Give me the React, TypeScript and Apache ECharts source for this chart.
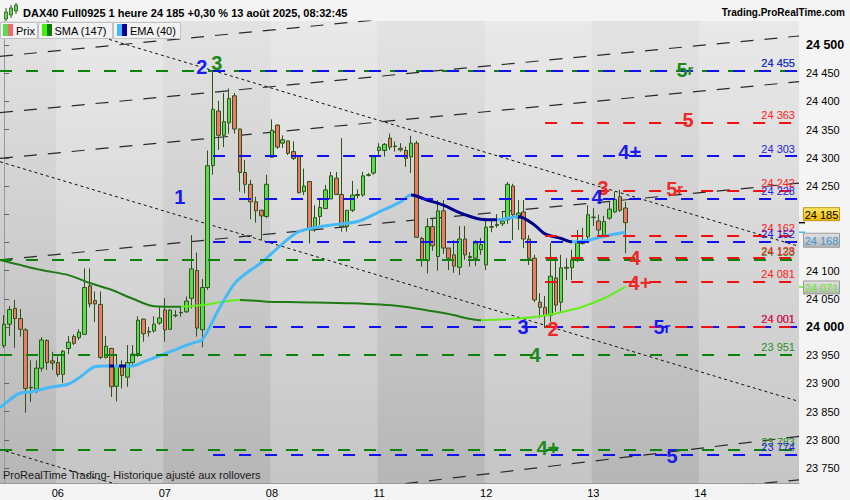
import React, { useEffect, useRef } from "react";
import * as echarts from "echarts";

const FONT = "'Liberation Sans', Arial, sans-serif";

// ---- axes ----
const dayLabels = ["06", "07", "08", "11", "12", "13", "14"];
const dayStarts = [10, 30, 50, 70, 90, 110, 130];
const lighterDays = [[9.7, 29.7], [49.7, 69.7], [89.7, 109.7], [129.7, 148.4]];
const yTicks = [23750, 23800, 23850, 23900, 23950, 24000, 24050, 24100, 24150, 24200, 24250, 24300, 24350, 24400, 24450, 24500];
const boldTicks = [24000, 24500];

// ---- hourly candles [open, close, low, high] ----
const day05 = [
  [23967, 24005, 23963, 24021], [24005, 24031, 23984, 24037], [24033, 24015, 23963, 24048], [24015, 23996, 23983, 24032],
  [23995, 23891, 23848, 23998], [23892, 23893, 23867, 23941], [23890, 23927, 23883, 23941], [23927, 23977, 23921, 23982],
  [23976, 23937, 23924, 23978], [23940, 23936, 23924, 23956],
];
const day06 = [
  [23937, 23916, 23912, 23948], [23916, 23957, 23901, 23959], [23962, 23973, 23952, 23984], [23983, 23971, 23968, 23987],
  [23981, 23991, 23977, 23996], [23987, 24070, 23986, 24104], [24073, 24041, 24035, 24104], [24047, 24041, 24009, 24063],
  [24040, 23946, 23943, 24063], [23946, 23966, 23944, 23984], [23962, 23894, 23876, 23963], [23895, 23931, 23868, 23952],
  [23931, 23914, 23891, 23941], [23911, 23937, 23894, 23968], [23937, 23952, 23933, 23968], [23953, 24012, 23947, 24019],
  [24014, 23988, 23974, 24015], [23992, 23991, 23983, 24000], [23993, 24005, 23990, 24019], [24007, 24016, 24004, 24036],
];
const day07 = [
  [24030, 23995, 23974, 24051], [23996, 24030, 23995, 24032], [24020, 24021, 24017, 24030], [24025, 24026, 24018, 24036],
  [24027, 24046, 24025, 24054], [24051, 24103, 24033, 24163], [24100, 23998, 23983, 24132], [23995, 24070, 23964, 24085],
  [24070, 24286, 24066, 24313], [24286, 24386, 24270, 24456], [24383, 24340, 24314, 24401], [24340, 24364, 24319, 24415],
  [24362, 24405, 24343, 24423], [24410, 24351, 24343, 24415], [24351, 24274, 24240, 24352], [24274, 24253, 24237, 24296],
  [24253, 24222, 24191, 24261], [24222, 24206, 24185, 24231], [24207, 24197, 24154, 24208], [24196, 24253, 24193, 24270],
];
const day08 = [
  [24301, 24349, 24300, 24368], [24358, 24319, 24316, 24359], [24326, 24332, 24317, 24340], [24330, 24308, 24305, 24330],
  [24311, 24299, 24296, 24329], [24304, 24238, 24237, 24305], [24240, 24250, 24234, 24281], [24258, 24174, 24148, 24258],
  [24174, 24194, 24169, 24216], [24196, 24212, 24181, 24226], [24210, 24243, 24209, 24252], [24227, 24268, 24227, 24275],
  [24264, 24235, 24234, 24275], [24235, 24178, 24169, 24335], [24178, 24207, 24169, 24207], [24207, 24234, 24204, 24259],
  [24233, 24235, 24228, 24244], [24234, 24268, 24231, 24275], [24269, 24270, 24267, 24273], [24273, 24302, 24270, 24305],
];
const day11 = [
  [24313, 24319, 24305, 24326], [24313, 24324, 24302, 24326], [24335, 24319, 24314, 24343], [24320, 24321, 24311, 24329],
  [24317, 24314, 24311, 24326], [24313, 24299, 24284, 24320], [24302, 24326, 24273, 24339], [24326, 24159, 24158, 24330],
  [24157, 24118, 24107, 24160], [24118, 24178, 24095, 24193], [24178, 24144, 24135, 24193], [24125, 24206, 24100, 24225],
  [24206, 24140, 24130, 24225], [24140, 24122, 24101, 24140], [24128, 24108, 24096, 24154], [24106, 24156, 24092, 24179],
  [24156, 24128, 24119, 24179], [24125, 24123, 24107, 24133], [24122, 24149, 24108, 24154], [24137, 24146, 24128, 24158],
];
const day12 = [
  [24110, 24177, 24101, 24193], [24177, 24178, 24168, 24190], [24180, 24182, 24176, 24200], [24183, 24188, 24179, 24204],
  [24190, 24253, 24183, 24257], [24250, 24199, 24154, 24254], [24193, 24202, 24172, 24225], [24204, 24156, 24140, 24225],
  [24156, 24122, 24110, 24163], [24122, 24048, 24044, 24128], [24044, 24035, 24016, 24060], [24035, 24020, 23998, 24055],
  [24021, 24090, 24009, 24149], [24087, 24039, 24027, 24119], [24044, 24105, 24027, 24128], [24104, 24106, 24083, 24122],
  [24105, 24119, 24083, 24137], [24119, 24149, 24115, 24172], [24148, 24152, 24146, 24176], [24160, 24199, 24154, 24216],
];
const day13 = [
  [24194, 24195, 24179, 24211], [24188, 24172, 24163, 24199], [24163, 24187, 24158, 24197], [24193, 24209, 24190, 24222],
  [24204, 24226, 24202, 24240], [24231, 24207, 24204, 24243], [24211, 24185, 24131, 24222],
];
const candles = [...day05, ...day06, ...day07, ...day08, ...day11, ...day12, ...day13];

// ---- moving averages [candle index, value] ----
const sma147 = [
  [-0.78, 24119], [7, 24101], [12, 24092], [16, 24078], [20, 24066], [24, 24050], [28, 24037], [33, 24036],
  [37, 24039], [41, 24045], [44, 24048], [49, 24045], [55, 24044], [65, 24042], [74, 24037], [80, 24028],
  [83, 24023], [89, 24012], [96, 24015], [100, 24019], [103, 24024], [108, 24036], [112, 24051], [116, 24071],
];
const smaTurns = [33, 44, 89]; // dark -> lime -> dark -> lime
const ema40 = [
  [-0.78, 23857], [3, 23883], [5, 23885], [8, 23892], [12, 23899], [14, 23910], [17, 23930], [19, 23931],
  [24, 23931], [26, 23938], [29, 23949], [32, 23960], [35, 23971], [37, 23978], [40, 24030], [43, 24077],
  [46, 24101], [48, 24114], [52, 24148], [55, 24169], [59, 24178], [62, 24182], [66, 24187], [70, 24204],
  [74, 24222], [76, 24234], [79, 24225], [82, 24216], [85, 24203], [87, 24196], [89, 24191], [92, 24190],
  [96, 24196], [99, 24181], [101, 24165], [104, 24157], [106, 24151], [109, 24154], [112, 24161], [116, 24168],
];
const emaTurns = [19.5, 20.5, 21.5, 22.8, 76, 92, 96, 106]; // light -> navy -> light ...

// ---- trend channels: price at left edge, price at right edge ----
const channelLines = [
  [24480, 24617], [24380, 24516], [24299, 24435], [24119, 24255], [23636, 23806], [23594, 23729],
];
const dottedLines = [
  [24568, 24143], [24293, 23868], [23783, 23358],
];

// ---- horizontal levels ----
const levels = [
  { price: 24455, kind: "green", from: -0.78 },
  { price: 24455, kind: "blue", from: 39 },
  { price: 24363, kind: "red", from: 101 },
  { price: 24303, kind: "blue", from: 39 },
  { price: 24242, kind: "red", from: 101 },
  { price: 24228, kind: "blue", from: 39 },
  { price: 24162, kind: "red", from: 101 },
  { price: 24152, kind: "blue", from: 39 },
  { price: 24120, kind: "green", from: -0.78, text: "24 133" },
  { price: 24122, kind: "red", from: 101, text: "24 128" },
  { price: 24081, kind: "red", from: 101 },
  { price: 24001, kind: "blue", from: 39 },
  { price: 24001, kind: "red", from: 101 },
  { price: 23951, kind: "green", from: -0.78 },
  { price: 23783, kind: "green", from: -0.78 },
  { price: 23774, kind: "blue", from: 39 },
];

// ---- wave counts ----
const waveLabels = [
  { text: "1", idx: 32.8, price: 24230, kind: "blue" },
  { text: "2", idx: 36.9, price: 24461, kind: "blue" },
  { text: "3", idx: 39.7, price: 24468, kind: "green" },
  { text: "5r", idx: 127.1, price: 24456, kind: "green" },
  { text: "5", idx: 127.7, price: 24367, kind: "red" },
  { text: "4+", idx: 116.8, price: 24310, kind: "blue" },
  { text: "3", idx: 111.8, price: 24247, kind: "red" },
  { text: "5r", idx: 125.2, price: 24245, kind: "red" },
  { text: "4", idx: 110.7, price: 24231, kind: "blue" },
  { text: "4", idx: 117.8, price: 24122, kind: "red" },
  { text: "4+", idx: 118.7, price: 24078, kind: "red" },
  { text: "3", idx: 96.9, price: 24000, kind: "blue" },
  { text: "2", idx: 102.5, price: 23996, kind: "red" },
  { text: "5r", idx: 122.8, price: 24000, kind: "blue" },
  { text: "4", idx: 99.1, price: 23950, kind: "green" },
  { text: "4+", idx: 101.5, price: 23785, kind: "green" },
  { text: "5", idx: 124.7, price: 23771, kind: "blue" },
];

const lastPrice = 24185;
const lastEma = 24168;
const lastSma = 24071;

const X_MIN = -0.784;
const X_MAX = 148.4;

const lineColors: Record<string, string> = { green: "#0b830b", blue: "#1010f2", red: "#f21010" };
const labelColors: Record<string, string> = { green: "#2b8f2b", blue: "#2525e0", red: "#ff2020" };
const waveColors: Record<string, string> = { green: "#1b8a1b", blue: "#1a1aee", red: "#ee2a2a" };

const fmt = (v: number) => String(Math.round(v)).replace(/\B(?=(\d{3})+(?!\d))/g, " ");

function pieces(turns: number[], a: string, b: string) {
  const out: any[] = [];
  const bounds = [-Infinity, ...turns, Infinity];
  for (let k = 0; k < bounds.length - 1; k++) {
    const p: any = { color: k % 2 === 0 ? a : b };
    if (bounds[k] !== -Infinity) p.gte = bounds[k];
    if (bounds[k + 1] !== Infinity) p.lt = bounds[k + 1];
    out.push(p);
  }
  return out;
}

export default function App() {
  const ref = useRef<HTMLDivElement>(null);
  useEffect(() => {
    document.body.style.margin = "0";
    const chart = echarts.init(ref.current!, null, { renderer: "svg" });

    const series: any[] = [];
    // day shading
    series.push({
      type: "line", data: [], z: 1, silent: true,
      markArea: {
        silent: true,
        itemStyle: { color: "rgba(255,255,255,0.22)" },
        data: lighterDays.map(([a, b]) => [{ xAxis: a }, { xAxis: b }]),
      },
    });
    channelLines.forEach(([a, b]) =>
      series.push({
        type: "line", z: 2, silent: true, symbol: "none", clip: true,
        data: [[X_MIN, a], [X_MAX, b]],
        lineStyle: { color: "#2a2a2a", width: 1.2, type: [13, 11] },
      })
    );
    dottedLines.forEach(([a, b]) =>
      series.push({
        type: "line", z: 2, silent: true, symbol: "none", clip: true,
        data: [[X_MIN, a], [X_MAX, b]],
        lineStyle: { color: "#111", width: 1, type: [3, 3] },
      })
    );
    series.push({
      type: "candlestick", z: 3, barWidth: 4,
      data: candles.map((c, i) => [i, c[0], c[1], c[2], c[3]]),
      encode: { x: 0, y: [1, 2, 3, 4] },
      itemStyle: {
        color: "#58dc50", color0: "#ef7868",
        borderColor: "#2c5416", borderColor0: "#2c5416", borderWidth: 1,
      },
    });
    const smaIndex = series.length;
    series.push({
      type: "line", z: 4, symbol: "none", smooth: 0.3, data: sma147,
      lineStyle: { width: 2 },
    });
    const emaIndex = series.length;
    series.push({
      type: "line", z: 4, symbol: "none", smooth: 0.3, data: ema40,
      lineStyle: { width: 3 },
    });
    series.push({
      type: "line", data: [], z: 5, silent: true,
      markLine: {
        silent: true, symbol: ["none", "none"], animation: false,
        data: levels.map((l) => [
          {
            coord: [l.from, l.price],
            lineStyle: { color: lineColors[l.kind], width: 2, type: [12, 14] },
            label: {
              show: true, position: "insideEndTop", distance: [4, 2],
              formatter: l.text || fmt(l.price), color: labelColors[l.kind],
              fontSize: 11, fontFamily: FONT,
            },
          },
          { coord: [X_MAX, l.price] },
        ]),
      },
      markPoint: {
        silent: true, animation: false,
        data: waveLabels.map((w) => ({
          coord: [w.idx, w.price], symbol: "circle", symbolSize: 1,
          itemStyle: { color: "rgba(0,0,0,0)" },
          label: {
            show: true, position: "inside",
            formatter: w.text === "5r" ? "{a|5}{b|r}" : w.text,
            color: waveColors[w.kind], fontSize: 20, fontWeight: "bold", fontFamily: FONT,
            rich: {
              a: { color: waveColors[w.kind], fontSize: 20, fontWeight: "bold", fontFamily: FONT },
              b: { color: waveColors[w.kind], fontSize: 15, fontWeight: "bold", fontFamily: FONT },
            },
          },
        })),
      },
    });

    const baseGraphic: any[] = [
      // header icon
      { type: "line", z: 20, shape: { x1: 6, y1: 8, x2: 6, y2: 21 }, style: { stroke: "#2c5416", lineWidth: 1 } },
      { type: "rect", z: 21, shape: { x: 4.5, y: 12, width: 3, height: 7 }, style: { fill: "#58dc50", stroke: "#2c5416", lineWidth: 0.8 } },
      { type: "line", z: 20, shape: { x1: 11, y1: 5, x2: 11, y2: 18 }, style: { stroke: "#2c5416", lineWidth: 1 } },
      { type: "rect", z: 21, shape: { x: 9.5, y: 8, width: 3, height: 7 }, style: { fill: "#58dc50", stroke: "#2c5416", lineWidth: 0.8 } },
      { type: "line", z: 20, shape: { x1: 16, y1: 3, x2: 16, y2: 14 }, style: { stroke: "#2c5416", lineWidth: 1 } },
      { type: "rect", z: 21, shape: { x: 14.5, y: 5, width: 3, height: 6 }, style: { fill: "#58dc50", stroke: "#2c5416", lineWidth: 0.8 } },
      {
        type: "text", z: 20, x: 23, y: 12.5,
        style: { text: "DAX40 Full0925 1 heure 24 185 +0,30 % 13 août 2025, 08:32:45", font: `bold 11px ${FONT}`, fill: "#000", verticalAlign: "middle" },
      },
      {
        type: "text", z: 20, x: 845, y: 12.5,
        style: { text: "Trading.ProRealTime.com", font: `bold 10px ${FONT}`, fill: "#000", align: "right", verticalAlign: "middle" },
      },
      // legend
      { type: "rect", z: 20, shape: { x: 0.5, y: 22.5, width: 37, height: 16 }, style: { fill: "#f2f2f2", stroke: "#c2c2c2" } },
      { type: "rect", z: 21, shape: { x: 3, y: 24, width: 5, height: 12 }, style: { fill: "#58dc50" } },
      { type: "rect", z: 21, shape: { x: 8, y: 24, width: 5, height: 12 }, style: { fill: "#ef6a6a" } },
      { type: "text", z: 21, x: 16, y: 30.5, style: { text: "Prix", font: `11px ${FONT}`, fill: "#000", verticalAlign: "middle" } },
      { type: "rect", z: 20, shape: { x: 38.5, y: 22.5, width: 74, height: 16 }, style: { fill: "#f2f2f2", stroke: "#c2c2c2" } },
      { type: "rect", z: 21, shape: { x: 42, y: 24, width: 5, height: 12 }, style: { fill: "#44ee11" } },
      { type: "rect", z: 21, shape: { x: 47, y: 24, width: 5, height: 12 }, style: { fill: "#0a7a0a" } },
      { type: "text", z: 21, x: 54.5, y: 30.5, style: { text: "SMA (147)", font: `11px ${FONT}`, fill: "#000", verticalAlign: "middle" } },
      { type: "rect", z: 20, shape: { x: 113.5, y: 22.5, width: 67, height: 16 }, style: { fill: "#f2f2f2", stroke: "#c2c2c2" } },
      { type: "rect", z: 21, shape: { x: 117, y: 24, width: 5, height: 12 }, style: { fill: "#44bbff" } },
      { type: "rect", z: 21, shape: { x: 122, y: 24, width: 5, height: 12 }, style: { fill: "#000099" } },
      { type: "text", z: 21, x: 130, y: 30.5, style: { text: "EMA (40)", font: `11px ${FONT}`, fill: "#000", verticalAlign: "middle" } },
      // footer note
      {
        type: "text", z: 20, x: 3, y: 475,
        style: { text: "ProRealTime Trading- Historique ajusté aux rollovers", font: `11px ${FONT}`, fill: "#1a1a1a", verticalAlign: "middle" },
      },
    ];

    const option: any = {
      animation: false,
      backgroundColor: "#f4f4f4",
      grid: {
        left: 0, right: 51, top: 21, bottom: 17, show: true, borderWidth: 0,
        backgroundColor: new echarts.graphic.LinearGradient(0, 0, 0, 1, [
          { offset: 0, color: "#e3e3e3" },
          { offset: 1, color: "#b6b6b6" },
        ]),
      },
      xAxis: {
        type: "value", min: X_MIN, max: X_MAX,
        splitLine: { show: false },
        axisLine: { show: true, lineStyle: { color: "#9a9a9a" } },
        axisTick: { show: false },
        axisLabel: {
          customValues: dayStarts,
          formatter: (v: number) => { const k = dayStarts.indexOf(Math.round(v)); return k >= 0 ? dayLabels[k] : ""; },
          color: "#000", fontSize: 11, fontFamily: FONT, margin: 4,
        },
      },
      yAxis: {
        type: "value", position: "right", min: 23723.4, max: 24542.6, scale: true,
        splitLine: { show: false },
        axisLine: { show: true, lineStyle: { color: "#9a9a9a" } },
        axisTick: { show: true, customValues: yTicks, length: 5, lineStyle: { color: "#666" } },
        axisLabel: {
          customValues: yTicks,
          formatter: (v: number) => (boldTicks.includes(Math.round(v)) ? `{b|${fmt(v)}}` : fmt(v)),
          color: "#000", fontSize: 11, fontFamily: FONT, margin: 7,
          rich: { b: { fontWeight: "bold", fontSize: 12.5, color: "#000", fontFamily: FONT } },
        },
      },
      visualMap: [
        { type: "piecewise", show: false, seriesIndex: smaIndex, dimension: 0, pieces: pieces(smaTurns, "#1f7a14", "#62ee1c") },
        { type: "piecewise", show: false, seriesIndex: emaIndex, dimension: 0, pieces: pieces(emaTurns, "#46b9f7", "#00008c") },
      ],
      series,
      graphic: baseGraphic,
    };
    chart.setOption(option);

    const py = (v: number) => chart.convertToPixel({ yAxisIndex: 0 }, v) as number;
    const greyFill = new echarts.graphic.LinearGradient(0, 0, 0, 1, [
      { offset: 0, color: "#e2e2e2" }, { offset: 1, color: "#b4b4b4" },
    ]);
    const goldFill = new echarts.graphic.LinearGradient(0, 0, 0, 1, [
      { offset: 0, color: "#ffe866" }, { offset: 1, color: "#f0b400" },
    ]);
    const box = (val: number, top: number, h: number, fill: any, stroke: string, color: string, tick: string) => [
      { type: "line", z: 22, shape: { x1: 799, y1: py(val), x2: 805, y2: py(val) }, style: { stroke: tick, lineWidth: 1.5 } },
      { type: "rect", z: 22, shape: { x: 803.5, y: top, width: 36, height: h }, style: { fill, stroke, lineWidth: 1 } },
      { type: "text", z: 23, x: 821.5, y: top + h / 2 + 0.5, style: { text: fmt(val), font: `11px ${FONT}`, fill: color, align: "center", verticalAlign: "middle" } },
    ];
    const boxes = [
      ...box(lastPrice, py(lastPrice) - 15, 13, goldFill, "#b89a20", "#000", "#000"),
      ...box(lastEma, py(lastEma) + 1, 14, greyFill, "#9a9a9a", "#3b97d6", "#46b9f7"),
      ...box(lastSma, py(lastSma) - 6, 13, greyFill, "#9a9a9a", "#66f022", "#62ee1c"),
    ];
    chart.setOption({ graphic: [...baseGraphic, ...boxes] });

    return () => chart.dispose();
  }, []);
  return <div ref={ref} style={{ position: "fixed", left: 0, top: 0, width: 850, height: 500 }} />;
}
